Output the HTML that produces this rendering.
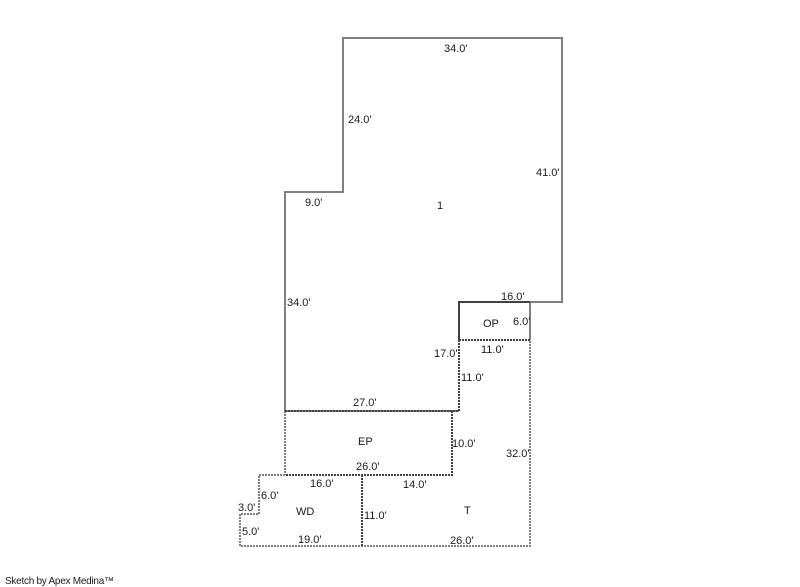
<!DOCTYPE html>
<html>
<head>
<meta charset="utf-8">
<style>
html,body{margin:0;padding:0;background:#fff;width:800px;height:587px;overflow:hidden}
svg{display:block}
text{font-family:"Liberation Sans",Arial,sans-serif;font-size:11px;fill:#1a1a1a}
.s{stroke:#808080;stroke-width:2;fill:none;shape-rendering:crispEdges}
.sd{stroke:#404040;stroke-width:2;fill:none;shape-rendering:crispEdges}
.d{stroke:#808080;stroke-width:2;fill:none;stroke-dasharray:2 1;shape-rendering:crispEdges}
.dd{stroke:#404040;stroke-width:2;fill:none;stroke-dasharray:2 1;shape-rendering:crispEdges}
</style>
</head>
<body>
<svg width="800" height="587" viewBox="0 0 800 587" xmlns="http://www.w3.org/2000/svg">
<path class="s" d="M285 411V192H343V38H562V302H530M530 302V340M285 411H459"/>
<path class="sd" d="M459 341V302H530"/>
<path class="d" d="M285 411V475M285 475H259V514H240V546H530V340"/>
<path class="dd" d="M285 411H459M459 340H530M459 340V411M452 411V475H285M362 475V546"/>
<text x="444" y="52">34.0'</text>
<text x="348" y="123">24.0'</text>
<text x="536" y="176">41.0'</text>
<text x="305" y="206">9.0'</text>
<text x="437" y="209">1</text>
<text x="287" y="306">34.0'</text>
<text x="501" y="300">16.0'</text>
<text x="483" y="327">OP</text>
<text x="513" y="325">6.0'</text>
<text x="481" y="353">11.0'</text>
<text x="434" y="357">17.0'</text>
<text x="461" y="381">11.0'</text>
<text x="353" y="406">27.0'</text>
<text x="358" y="445">EP</text>
<text x="452" y="447">10.0'</text>
<text x="506" y="457">32.0'</text>
<text x="356" y="470">26.0'</text>
<text x="310" y="487">16.0'</text>
<text x="403" y="488">14.0'</text>
<text x="261" y="499">6.0'</text>
<text x="238" y="511">3.0'</text>
<text x="296" y="515">WD</text>
<text x="464" y="514">T</text>
<text x="364" y="519">11.0'</text>
<text x="242" y="535">5.0'</text>
<text x="298" y="543">19.0'</text>
<text x="450" y="544">26.0'</text>
<text x="5" y="584" style="font-size:10px" textLength="109" lengthAdjust="spacing">Sketch by Apex Medina™</text>
</svg>
</body>
</html>
